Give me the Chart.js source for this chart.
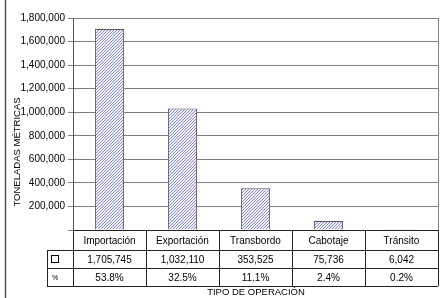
<!DOCTYPE html>
<html>
<head>
<meta charset="utf-8">
<script src="https://cdn.jsdelivr.net/npm/chart.js@4/dist/chart.umd.min.js"></script>
<style>
  html, body { margin: 0; padding: 0; background: #fff; }
  #wrap { width: 446px; height: 298px; }
</style>
</head>
<body>
<div id="wrap"><canvas id="c" width="446" height="298"></canvas></div>
<script>
const categories = ['Importación', 'Exportación', 'Transbordo', 'Cabotaje', 'Tránsito'];
const tonnes = [1705745, 1032110, 353525, 75736, 6042];
const percents = ['53.8%', '32.5%', '11.1%', '2.4%', '0.2%'];
const yMax = 1800000;
const yStep = 200000;
const yTitle = 'TONELADAS MÉTRICAS';
const xTitle = 'TIPO DE OPERACIÓN';

const FONT = '"Liberation Sans", Arial, sans-serif';

function hatch() {
  const n = 3;
  const p = document.createElement('canvas');
  p.width = n; p.height = n;
  const g = p.getContext('2d');
  g.fillStyle = '#f4f4fb';
  g.fillRect(0, 0, n, n);
  g.strokeStyle = '#8488cc';
  g.lineWidth = 1;
  g.beginPath();
  g.moveTo(0, n); g.lineTo(n, 0);
  g.moveTo(-1, 1); g.lineTo(1, -1);
  g.moveTo(n - 1, n + 1); g.lineTo(n + 1, n - 1);
  g.stroke();
  return g.createPattern(p, 'repeat');
}

const fmt = v => v.toLocaleString('en-US');

const tablePlugin = {
  id: 'table',
  afterDraw(chart) {
    const ctx = chart.ctx;
    const a = chart.chartArea;
    const xs = chart.scales.x;
    const half = (xs.getPixelForValue(1) - xs.getPixelForValue(0)) / 2;
    const legL = 47;
    const rows = [a.bottom, 250, 268, 286];
    ctx.save();
    ctx.strokeStyle = '#555';
    ctx.lineWidth = 1.5;
    ctx.beginPath();
    ctx.moveTo(5.5, 0); ctx.lineTo(5.5, 298);
    ctx.stroke();
    ctx.strokeStyle = '#888';
    ctx.lineWidth = 1;
    ctx.beginPath();
    ctx.moveTo(Math.round(a.right) + 0.5, a.top);
    ctx.lineTo(Math.round(a.right) + 0.5, a.bottom);
    ctx.stroke();
    ctx.strokeStyle = '#222';
    ctx.lineWidth = 1;
    ctx.beginPath();
    ctx.moveTo(a.left, rows[0] + 0.5); ctx.lineTo(a.right, rows[0] + 0.5);
    for (let r = 1; r < rows.length; r++) {
      ctx.moveTo(legL, rows[r] + 0.5); ctx.lineTo(a.right, rows[r] + 0.5);
    }
    ctx.moveTo(legL + 0.5, rows[1]); ctx.lineTo(legL + 0.5, rows[3]);
    for (let i = 0; i <= categories.length; i++) {
      const x = Math.round(xs.getPixelForValue(i) - half) + 0.5;
      ctx.moveTo(x, rows[0]); ctx.lineTo(x, rows[3]);
    }
    ctx.stroke();
    ctx.fillStyle = '#000';
    ctx.font = '10px ' + FONT;
    ctx.textAlign = 'center';
    ctx.textBaseline = 'middle';
    categories.forEach((c, i) => {
      const x = xs.getPixelForValue(i);
      ctx.fillText(c, x, (rows[0] + rows[1]) / 2 + 1);
      ctx.fillText(fmt(tonnes[i]), x, (rows[1] + rows[2]) / 2 + 1);
      ctx.fillText(percents[i], x, (rows[2] + rows[3]) / 2 + 1);
    });
    ctx.strokeStyle = '#000';
    ctx.fillStyle = '#fff';
    ctx.fillRect(51.5, 255.5, 7, 7);
    ctx.strokeRect(51.5, 255.5, 7, 7);
    ctx.fillStyle = '#000';
    ctx.font = '7px ' + FONT;
    ctx.fillText('%', 55, 278);
    ctx.font = '9.5px ' + FONT;
    ctx.fillText(xTitle, 256, 292);
    ctx.translate(17, 152);
    ctx.rotate(-Math.PI / 2);
    ctx.fillText(yTitle, 0, 0);
    ctx.restore();
  }
};

new Chart(document.getElementById('c'), {
  type: 'bar',
  data: {
    labels: categories,
    datasets: [{
      data: tonnes,
      backgroundColor: hatch(),
      borderColor: '#555',
      borderWidth: 1,
      barPercentage: 0.4,
      categoryPercentage: 1.0
    }]
  },
  options: {
    responsive: false,
    animation: false,
    devicePixelRatio: 1,
    layout: { padding: { left: 0, top: 18, right: 8, bottom: 68 } },
    plugins: { legend: { display: false }, tooltip: { enabled: false } },
    scales: {
      x: { display: false },
      y: {
        min: 0, max: yMax,
        afterFit(s) { s.width = 73; },
        border: { display: true, color: '#555' },
        grid: { color: '#808080', tickLength: 5, drawTicks: true },
        ticks: {
          stepSize: yStep,
          color: '#000',
          padding: 3,
          font: { family: FONT, size: 10 },
          callback: v => v === 0 ? '' : fmt(v)
        }
      }
    }
  },
  plugins: [tablePlugin]
});
</script>
</body>
</html>
